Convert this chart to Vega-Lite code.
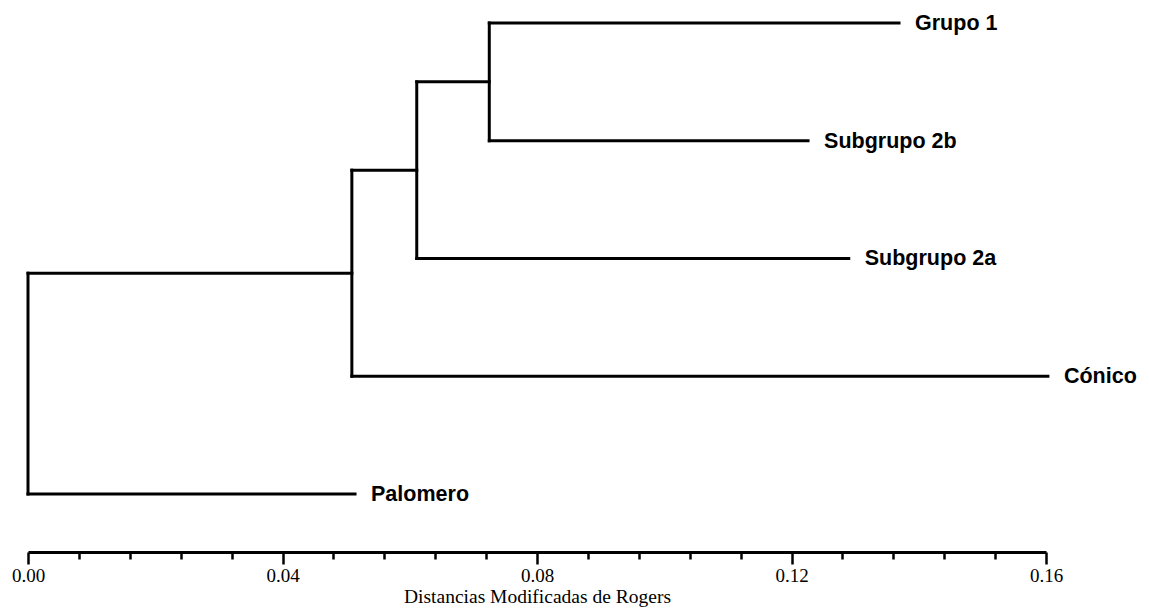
{
  "$schema": "https://vega.github.io/schema/vega-lite/v6.json",
  "width": 1018,
  "height": 552,
  "autosize": {"type": "none"},
  "padding": {"left": 28, "top": 0, "right": 103, "bottom": 57},
  "background": "white",
  "config": {"view": {"stroke": null}},
  "datasets": {
    "segments": [
      {"x0": 0.0725, "x1": 0.1369, "y0": 0, "y1": 0},
      {"x0": 0.0725, "x1": 0.1226, "y0": 1, "y1": 1},
      {"x0": 0.0725, "x1": 0.0725, "y0": 0, "y1": 1},
      {"x0": 0.0611, "x1": 0.0725, "y0": 0.5, "y1": 0.5},
      {"x0": 0.0611, "x1": 0.129, "y0": 2, "y1": 2},
      {"x0": 0.0611, "x1": 0.0611, "y0": 0.5, "y1": 2},
      {"x0": 0.0509, "x1": 0.0611, "y0": 1.25, "y1": 1.25},
      {"x0": 0.0509, "x1": 0.1603, "y0": 3, "y1": 3},
      {"x0": 0.0509, "x1": 0.0509, "y0": 1.25, "y1": 3},
      {"x0": 0, "x1": 0.0509, "y0": 2.125, "y1": 2.125},
      {"x0": 0, "x1": 0.0514, "y0": 4, "y1": 4},
      {"x0": 0, "x1": 0, "y0": 2.125, "y1": 4}
    ],
    "leaves": [
      {"name": "Grupo 1", "dist": 0.1369, "pos": 0},
      {"name": "Subgrupo 2b", "dist": 0.1226, "pos": 1},
      {"name": "Subgrupo 2a", "dist": 0.129, "pos": 2},
      {"name": "Cónico", "dist": 0.1603, "pos": 3},
      {"name": "Palomero", "dist": 0.0514, "pos": 4}
    ]
  },
  "layer": [
    {
      "data": {"name": "segments"},
      "mark": {"type": "rule", "color": "black", "strokeWidth": 3, "strokeCap": "square"},
      "encoding": {
        "x": {
          "field": "x0",
          "type": "quantitative",
          "scale": {"domain": [0, 0.16], "nice": false, "zero": false},
          "axis": {
            "title": "Distancias Modificadas de Rogers",
            "values": [0, 0.008, 0.016, 0.024, 0.032, 0.04, 0.048, 0.056, 0.064, 0.072, 0.08, 0.088, 0.096, 0.104, 0.112, 0.12, 0.128, 0.136, 0.144, 0.152, 0.16],
            "labelExpr": "round(datum.value*1000) % 40 === 0 ? format(datum.value, '.2f') : ''",
            "tickSize": {"condition": {"test": "round(datum.value*1000) % 40 === 0", "value": 12}, "value": 7},
            "tickWidth": 2.5,
            "tickColor": "black",
            "domainColor": "black",
            "domainWidth": 3,
            "labelFont": "Liberation Serif",
            "labelFontSize": 19,
            "labelColor": "black",
            "labelOverlap": false,
            "labelFlush": false,
            "labelPadding": 2,
            "titleFont": "Liberation Serif",
            "titleFontSize": 19.5,
            "titleFontWeight": "normal",
            "titleColor": "black",
            "titlePadding": 2,
            "grid": false
          }
        },
        "x2": {"field": "x1"},
        "y": {
          "field": "y0",
          "type": "quantitative",
          "scale": {"domain": [-0.1953, 4.4926], "reverse": true, "nice": false, "zero": false},
          "axis": null
        },
        "y2": {"field": "y1"}
      }
    },
    {
      "data": {"name": "leaves"},
      "mark": {"type": "text", "align": "left", "baseline": "middle", "dx": 16, "dy": 1, "font": "Liberation Sans", "fontWeight": "bold", "fontSize": 21.5, "color": "black"},
      "encoding": {
        "x": {"field": "dist", "type": "quantitative"},
        "y": {"field": "pos", "type": "quantitative"},
        "text": {"field": "name"}
      }
    }
  ]
}
